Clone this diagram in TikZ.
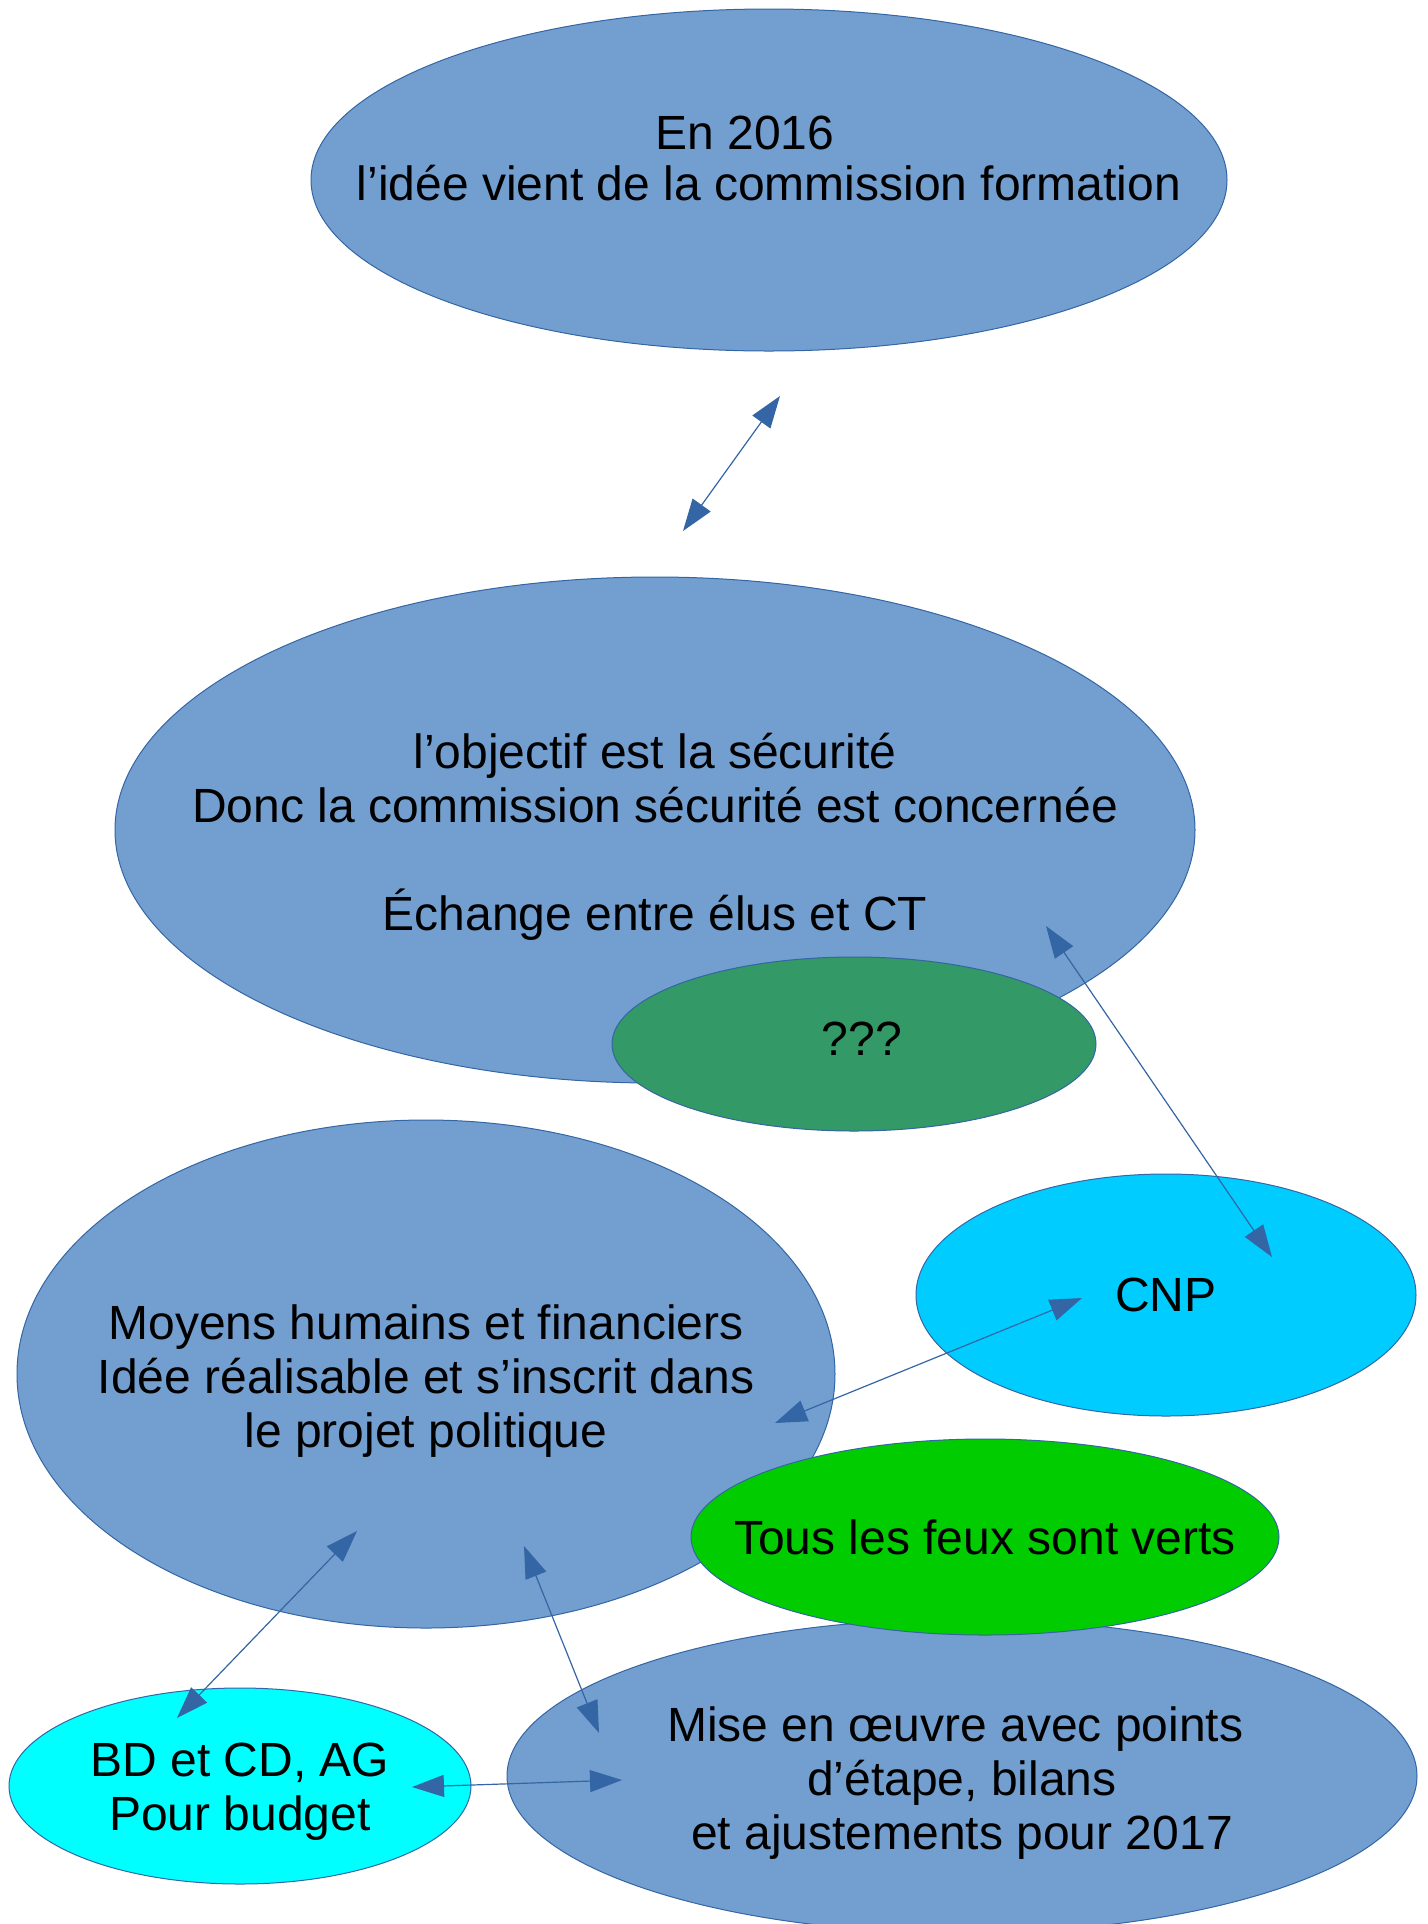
\documentclass[tikz,border=0pt]{standalone}
\usepackage{fontspec}
\setmainfont{Liberation Sans}
\usetikzlibrary{shapes.geometric,arrows.meta}
\definecolor{bleu}{HTML}{729FCF}
\definecolor{trait}{HTML}{3465A4}
\definecolor{vertfonce}{HTML}{339966}
\definecolor{ciel}{HTML}{00CCFF}
\definecolor{vertvif}{HTML}{00CC00}
\definecolor{turquoise}{HTML}{00FFFF}
\begin{document}
\begin{tikzpicture}
		[x=0.5pt,y=-0.5pt,
		bulle/.style={ellipse,draw=trait,line width=0.5pt,inner sep=0pt},
		texte/.style={align=center,inner sep=0pt,text=black,
			font=\fontsize{24}{27}\selectfont},
		lien/.style={draw=trait,line width=0.6pt,
			{Triangle[length=16pt,width=11pt]}-{Triangle[length=16pt,width=11pt]}}]
		\useasboundingbox (0,0) rectangle (1428,1924);
		\node[bulle,fill=bleu,minimum width=458pt,minimum height=171pt] (idee) at (769,180) {};
		\node[texte,font=\fontsize{24}{25.5}\selectfont] (idee-t) at (769,158) {En 2016\hspace*{24pt}\\l’idée vient de la commission formation};
		\node[bulle,fill=bleu,minimum width=540pt,minimum height=253pt] (objectif) at (655,830) {};
		\node[texte] (objectif-t) at (655,837) {l’objectif est la sécurité\\Donc la commission sécurité est concernée\\[27pt]Échange entre élus et CT};
		\node[bulle,fill=vertfonce,minimum width=242pt,minimum height=87pt] (inconnu) at (854,1044) {};
		\node[texte] (inconnu-t) at (862,1039) {???};
		\node[bulle,fill=bleu,minimum width=409pt,minimum height=254pt] (moyens) at (426,1374) {};
		\node[texte] (moyens-t) at (426,1381) {Moyens humains et financiers\\Idée réalisable et s’inscrit dans\\le projet politique};
		\node[bulle,fill=ciel,minimum width=250pt,minimum height=121pt] (cnp) at (1166,1295) {};
		\node[texte] (cnp-t) at (1166,1295) {CNP};
		\node[bulle,fill=bleu,minimum width=455pt,minimum height=157pt] (mise) at (962,1776) {};
		\node[texte] (mise-t) at (962,1783) {Mise en œuvre avec points\hspace*{6.7pt}\\d’étape, bilans\\et ajustements pour 2017};
		\node[bulle,fill=turquoise,minimum width=231pt,minimum height=98pt] (bd) at (240,1786) {};
		\node[texte] (bd-t) at (240,1792) {BD et CD, AG\\Pour budget};
		\node[bulle,fill=vertvif,minimum width=294pt,minimum height=98pt] (feux) at (985,1537) {};
		\node[texte] (feux-t) at (985,1537) {Tous les feux sont verts};
		\coordinate (f1a) at (780,396);
		\coordinate (f1b) at (683,531);
		\coordinate (f2a) at (1046,926);
		\coordinate (f2b) at (1272,1257);
		\coordinate (f3a) at (1082,1298);
		\coordinate (f3b) at (775,1423);
		\coordinate (f4a) at (357,1531);
		\coordinate (f4b) at (177,1718);
		\coordinate (f5a) at (524,1546);
		\coordinate (f5b) at (599,1733);
		\coordinate (f6a) at (412,1787);
		\coordinate (f6b) at (622,1780);
		\draw[lien] (f1a) -- (f1b);
		\draw[lien] (f2a) -- (f2b);
		\draw[lien] (f3a) -- (f3b);
		\draw[lien] (f4a) -- (f4b);
		\draw[lien] (f5a) -- (f5b);
		\draw[lien] (f6a) -- (f6b);
	\end{tikzpicture}
\end{document}
